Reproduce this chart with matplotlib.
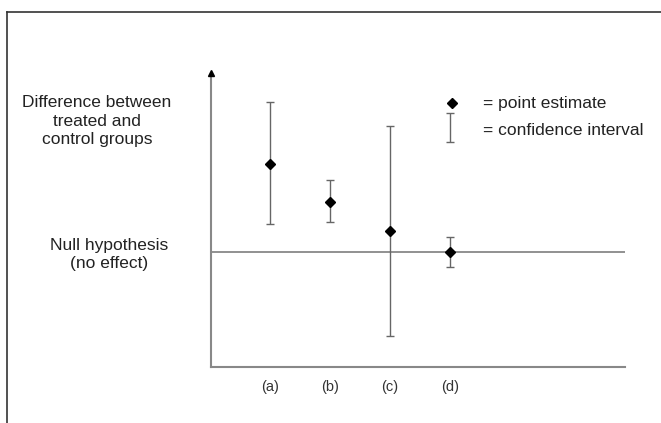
import numpy as np
import matplotlib
matplotlib.use('Agg')
import matplotlib.pyplot as plt
from matplotlib.lines import Line2D

plt.rcParams['font.family'] = ['Liberation Sans', 'DejaVu Sans']

# data (arbitrary units, null hypothesis = 0)
labels = ['(a)', '(b)', '(c)', '(d)']
estimate = [4.4, 2.5, 1.05, 0.0]
ci_low = [1.4, 1.5, -4.2, -0.75]
ci_high = [7.5, 3.6, 6.3, 0.75]

x_pos = np.arange(len(labels))
est = np.array(estimate)
yerr = [est - np.array(ci_low), np.array(ci_high) - est]

fig = plt.figure(figsize=(6.61, 4.23), dpi=100)
ax = fig.add_axes([211/661, (423-367.3)/423, (625-211)/661, (367.3-73)/423])

axis_col = '#888888'
bar_col = '#666666'
txt_col = '#222222'

# null hypothesis line
ax.axhline(0, color=axis_col, lw=1.3, zorder=1)

ax.errorbar(x_pos, est, yerr=yerr, fmt='none', ecolor=bar_col,
            elinewidth=1.0, capsize=3, capthick=1.0, zorder=2)
ax.plot(x_pos, est, 'D', color='black', markersize=5.5, zorder=3)

ax.set_xlim(-0.983, 5.92)
ax.set_ylim(-5.78, 8.94)

for s in ['top', 'right']:
    ax.spines[s].set_visible(False)
for s in ['left', 'bottom']:
    ax.spines[s].set_color(axis_col)
    ax.spines[s].set_linewidth(1.5)
ax.set_yticks([])
ax.set_xticks(x_pos, labels)
ax.tick_params(axis='x', length=0, pad=9, labelsize=10.5, labelcolor='#333333')

# arrow at top of y axis
ax.plot([-0.983], [8.94], marker='^', color='black', markersize=5,
        clip_on=False, zorder=4)

# legend drawn by hand
ax.plot([3.03], [7.43], 'D', color='black', markersize=5, clip_on=False)
ax.errorbar([3.0], [6.21], yerr=[[0.72], [0.72]], fmt='none', ecolor=bar_col,
            elinewidth=1.0, capsize=3, capthick=1.0)
ax.text(3.55, 7.43, '= point estimate', fontsize=12.5, va='center', color=txt_col)
ax.text(3.55, 6.08, '= confidence interval', fontsize=12.5, va='center', color=txt_col)

# left side labels
fig.text(97/661, 1 - 121/423, 'Difference between\ntreated and\ncontrol groups',
         ha='center', va='center', fontsize=12.5, linespacing=1.27, color=txt_col)
fig.text(109/661, 1 - 254.5/423, 'Null hypothesis\n(no effect)',
         ha='center', va='center', fontsize=12.5, linespacing=1.27, color=txt_col)

# outer frame (top and left)
fig.add_artist(Line2D([7/661, 1], [1 - 12/423, 1 - 12/423], color='#333333', lw=1.2))
fig.add_artist(Line2D([7/661, 7/661], [0, 1 - 12/423], color='#333333', lw=1.2))

fig.savefig('out.png', dpi=100)
